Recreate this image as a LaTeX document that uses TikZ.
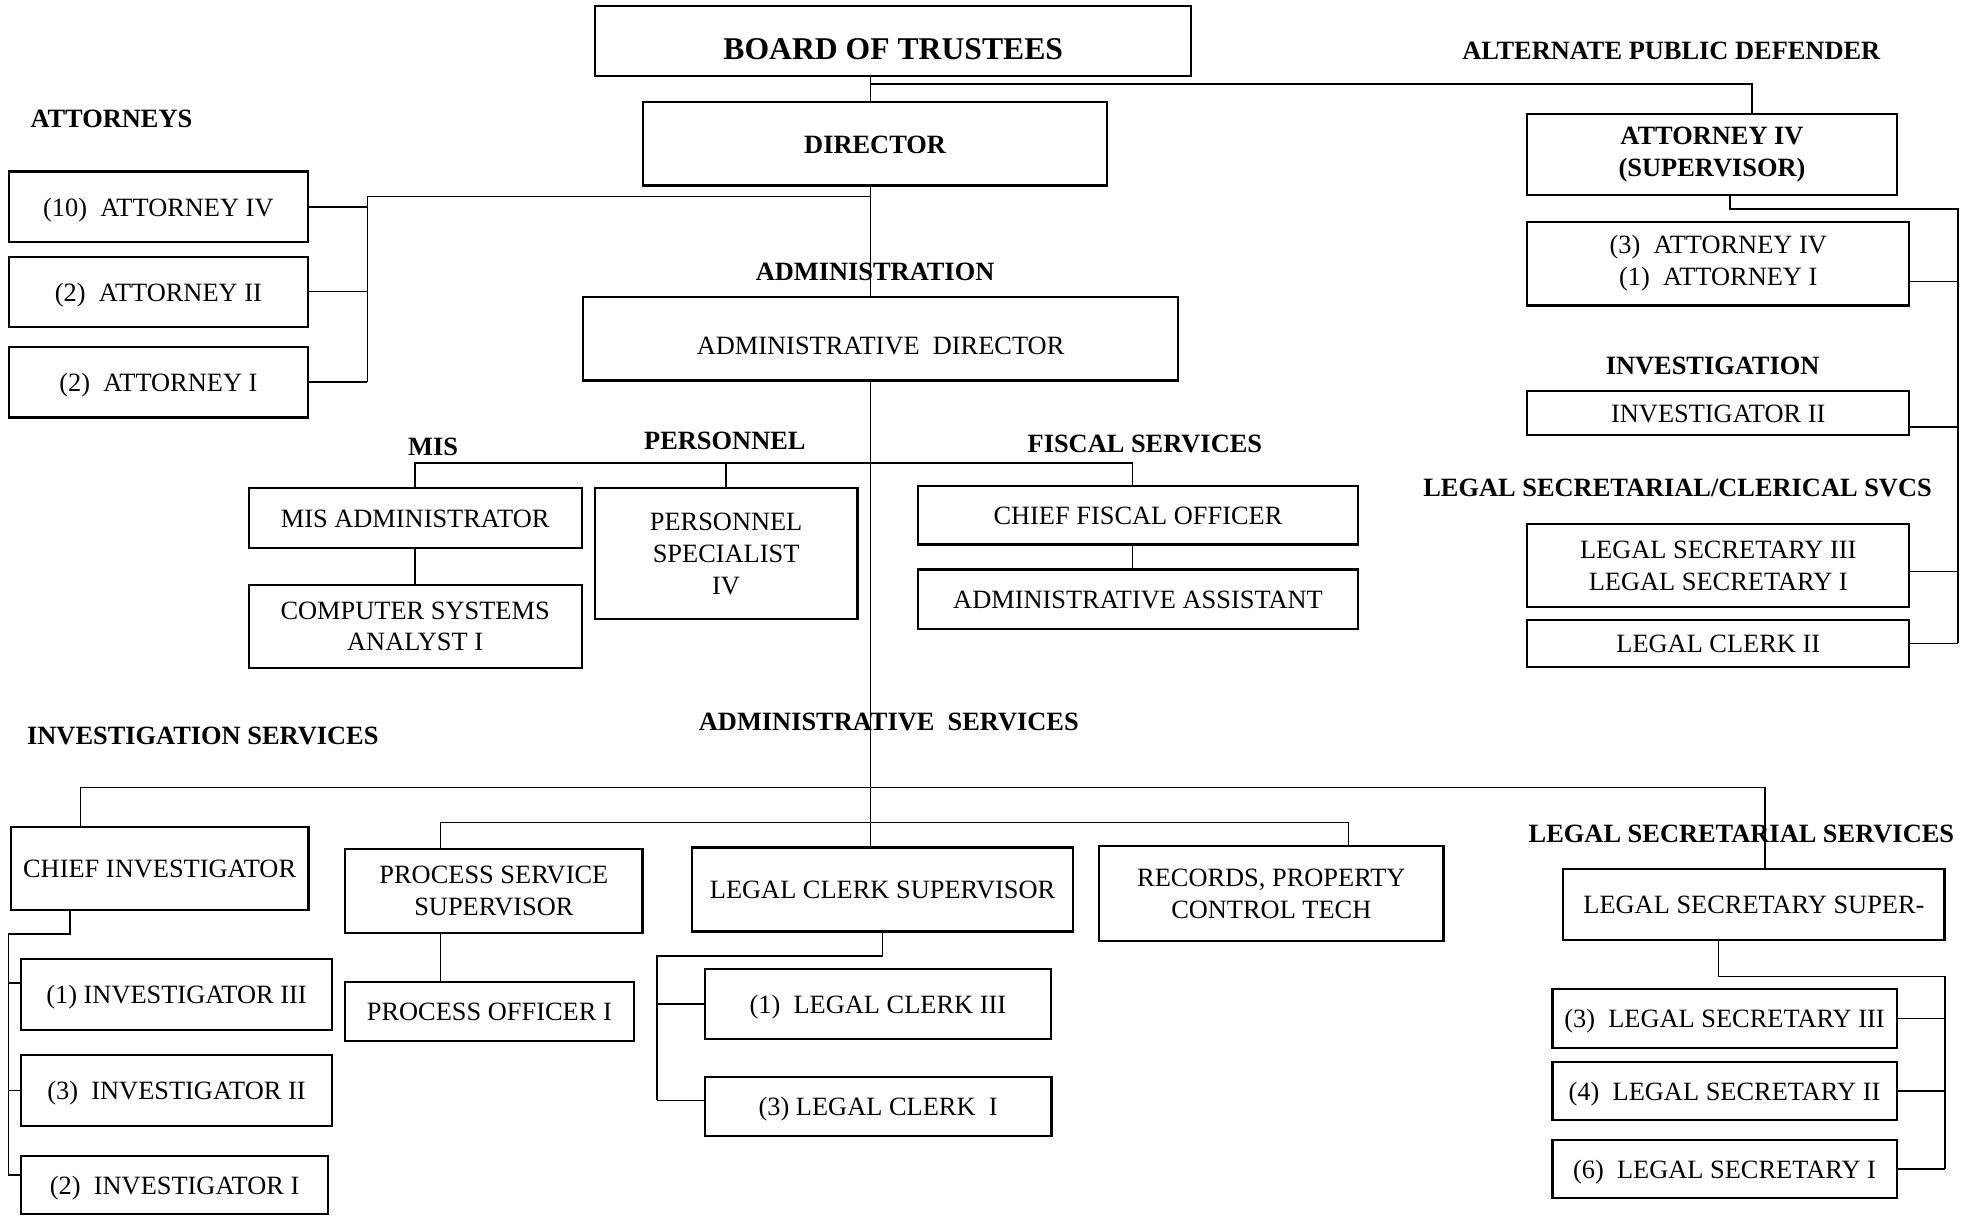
\documentclass[tikz,border=0pt]{standalone}
\usepackage{fontspec}
\setmainfont{Liberation Serif}
\begin{document}
\begin{tikzpicture}[x=0.02cm, y=-0.02cm,
    box/.style={draw, line width=1pt, align=center, inner sep=0pt,
      font=\fontsize{12}{14.5}\selectfont},
    single/.style={box, text height=8.5pt, text depth=0pt},
    head/.style={inner sep=0pt, font=\fontsize{12}{14.5}\selectfont\bfseries},
    link/.style={line width=0.7pt}]
    \useasboundingbox (0,0) rectangle (1568,971);

    % Nodes
    \node[single, font=\fontsize{14.4}{17}\selectfont\bfseries, text height=16.3pt, minimum width=9.52cm, minimum height=1.12cm] (board) at (713.5,33) {BOARD OF TRUSTEES};
    \node[single, font=\fontsize{12}{14.5}\selectfont\bfseries, minimum width=7.42cm, minimum height=1.33cm] (dir) at (699,115) {DIRECTOR};
    \node[single, text height=14.7pt, minimum width=9.5cm, minimum height=1.34cm] (adir) at (703.4,270.5) {ADMINISTRATIVE~ DIRECTOR};

    \node[single, minimum width=4.77cm, minimum height=1.13cm] (att10) at (126.5,165.3) {(10)~ ATTORNEY IV};
    \node[single, minimum width=4.77cm, minimum height=1.12cm] (att2) at (126.5,233) {(2)~ ATTORNEY II};
    \node[single, minimum width=4.77cm, minimum height=1.13cm] (att1) at (126.5,305.3) {(2)~ ATTORNEY I};

    \node[box, font=\fontsize{12}{14.5}\selectfont\bfseries, minimum width=5.9cm, minimum height=1.3cm] (sup) at (1367.5,123.5) {ATTORNEY IV\\(SUPERVISOR)};
    \node[box, minimum width=6.1cm, minimum height=1.34cm] (apd) at (1372.5,210.5) {(3)~ ATTORNEY IV\\(1)~ ATTORNEY I};
    \node[single, minimum width=6.1cm, minimum height=0.71cm] (invR) at (1372.5,329.8) {INVESTIGATOR II};
    \node[box, minimum width=6.1cm, minimum height=1.32cm] (lsec) at (1372.5,451.8) {LEGAL SECRETARY III\\LEGAL SECRETARY I};
    \node[single, minimum width=6.1cm, minimum height=0.76cm] (lc2) at (1372.5,514) {LEGAL CLERK II};

    \node[single, minimum width=5.32cm, minimum height=0.95cm] (misadm) at (331.6,413.7) {MIS ADMINISTRATOR};
    \node[box, minimum width=5.32cm, minimum height=1.33cm] (csa) at (331.6,500.3) {COMPUTER SYSTEMS\\ANALYST I};
    \node[box, minimum width=4.2cm, minimum height=2.09cm] (pers) at (580,442.2) {PERSONNEL\\SPECIALIST\\IV};
    \node[single, minimum width=7.04cm, minimum height=0.94cm] (cfo) at (909,411.5) {CHIEF FISCAL OFFICER};
    \node[single, minimum width=7.04cm, minimum height=0.95cm] (aa) at (909,478.7) {ADMINISTRATIVE ASSISTANT};

    \node[single, minimum width=4.76cm, minimum height=1.33cm] (ci) at (127.5,693.7) {CHIEF INVESTIGATOR};
    \node[single, minimum width=4.96cm, minimum height=1.13cm] (inv3) at (141,794.4) {(1) INVESTIGATOR III};
    \node[single, minimum width=4.96cm, minimum height=1.14cm] (inv2) at (141,871) {(3)~ INVESTIGATOR II};
    \node[single, minimum width=4.9cm, minimum height=0.92cm] (inv1) at (139.5,946.5) {(2)~ INVESTIGATOR I};

    \node[box, minimum width=4.75cm, minimum height=1.33cm] (pss) at (394.5,711.7) {PROCESS SERVICE\\SUPERVISOR};
    \node[single, minimum width=4.61cm, minimum height=0.94cm] (po1) at (390.9,808) {PROCESS OFFICER I};
    \node[single, minimum width=6.08cm, minimum height=1.34cm] (lcs) at (705,710.5) {LEGAL CLERK SUPERVISOR};
    \node[single, minimum width=5.53cm, minimum height=1.12cm] (lc3) at (701.2,802) {(1)~ LEGAL CLERK III};
    \node[single, minimum width=5.54cm, minimum height=0.95cm] (lc1) at (701.4,883.8) {(3) LEGAL CLERK~ I};
    \node[box, minimum width=5.5cm, minimum height=1.51cm] (rec) at (1015.5,713.8) {RECORDS, PROPERTY\\CONTROL TECH};

    \node[single, minimum width=6.09cm, minimum height=1.14cm] (lss) at (1401,722.5) {LEGAL SECRETARY SUPER-};
    \node[single, minimum width=5.5cm, minimum height=0.94cm] (ls3) at (1377.5,813.5) {(3)~ LEGAL SECRETARY III};
    \node[single, minimum width=5.5cm, minimum height=0.93cm] (ls2) at (1377.5,871.3) {(4)~ LEGAL SECRETARY II};
    \node[single, minimum width=5.5cm, minimum height=0.93cm] (ls1) at (1377.5,933.8) {(6)~ LEGAL SECRETARY I};

    % Labels
    \node[head] (lblatt) at (89,95) {ATTORNEYS};
    \node[head] (lblapd) at (1335,41) {ALTERNATE PUBLIC DEFENDER};
    \node[head] (lbladm) at (699,217) {ADMINISTRATION};
    \node[head] (lblmis) at (346,357) {MIS};
    \node[head] (lblpers) at (579,352) {PERSONNEL};
    \node[head] (lblfis) at (914.5,355) {FISCAL SERVICES};
    \node[head] (lblinv) at (1368,292) {INVESTIGATION};
    \node[head] (lbllsc) at (1340,390) {LEGAL SECRETARIAL/CLERICAL SVCS};
    \node[head] (lblinvs) at (162,588) {INVESTIGATION SERVICES};
    \node[head] (lblads) at (710,577) {ADMINISTRATIVE~ SERVICES};
    \node[head] (lbllss) at (1391,666) {LEGAL SECRETARIAL SERVICES};

    % Joints
    \coordinate (spine) at (695.5,0);
    \coordinate (apdjoin) at (1399.5,67);
    \coordinate (attbus) at (293.4,157);
    \coordinate (supjoin) at (1382,167);
    \coordinate (rbus) at (1564,167);
    \coordinate (fisjoin) at (904.6,370);
    \coordinate (cijoin) at (64.4,629);
    \coordinate (lssjoin) at (1410,629);
    \coordinate (psjoin) at (352,657);
    \coordinate (recjoin) at (1077,657);
    \coordinate (cidrop) at (56,746);
    \coordinate (invbus) at (6.7,746);
    \coordinate (lcbus) at (525,763.6);
    \coordinate (lsdrop) at (1372.7,780);
    \coordinate (lsbus) at (1553.6,780);

    % Edges
    \draw[link] (board.south -| spine) -- (dir.north -| spine);
    \draw[link] (spine |- apdjoin) -- (apdjoin) -- (apdjoin |- sup.north);
    \draw[link] (dir.south -| spine) -- (adir.north -| spine);
    \draw[link] (spine |- attbus) -- (attbus) -- (attbus |- att1.east);
    \draw[link] (att10.east) -- (att10.east -| attbus);
    \draw[link] (att2.east) -- (att2.east -| attbus);
    \draw[link] (att1.east) -- (att1.east -| attbus);

    \draw[link] (supjoin |- sup.south) -- (supjoin) -- (rbus) -- (rbus |- lc2.east);
    \draw[link] (apd.east |- 0,225) -- (rbus |- 0,225);
    \draw[link] (invR.east |- 0,341) -- (rbus |- 0,341);
    \draw[link] (lsec.east |- 0,456.6) -- (rbus |- 0,456.6);
    \draw[link] (lc2.east) -- (lc2.east -| rbus);

    \draw[link] (adir.south -| spine) -- (lcs.north -| spine);
    \draw[link] (misadm.north) |- (fisjoin) -- (fisjoin |- cfo.north);
    \draw[link] (pers.north) -- (pers.north |- fisjoin);
    \draw[link] (misadm.south) -- (csa.north);
    \draw[link] (fisjoin |- cfo.south) -- (fisjoin |- aa.north);

    \draw[link] (cijoin |- ci.north) -- (cijoin) -- (lssjoin) -- (lssjoin |- lss.north);
    \draw[link] (psjoin |- pss.north) -- (psjoin) -- (recjoin) -- (recjoin |- rec.north);
    \draw[link] (psjoin |- pss.south) -- (psjoin |- po1.north);

    \draw[link] (cidrop |- ci.south) -- (cidrop) -- (invbus) -- (invbus |- 0,938.6);
    \draw[link] (invbus |- 0,785) -- (inv3.west |- 0,785);
    \draw[link] (invbus |- inv2.west) -- (inv2.west);
    \draw[link] (invbus |- 0,938.6) -- (inv1.west |- 0,938.6);

    \draw[link] (lcs.south) |- (lcbus) -- (lcbus |- 0,879);
    \draw[link] (lcbus |- lc3.west) -- (lc3.west);
    \draw[link] (lcbus |- 0,879) -- (lc1.west |- 0,879);

    \draw[link] (lsdrop |- lss.south) -- (lsdrop) -- (lsbus) -- (lsbus |- ls1.east);
    \draw[link] (ls3.east) -- (ls3.east -| lsbus);
    \draw[link] (ls2.east) -- (ls2.east -| lsbus);
    \draw[link] (ls1.east) -- (ls1.east -| lsbus);
\end{tikzpicture}
\end{document}
